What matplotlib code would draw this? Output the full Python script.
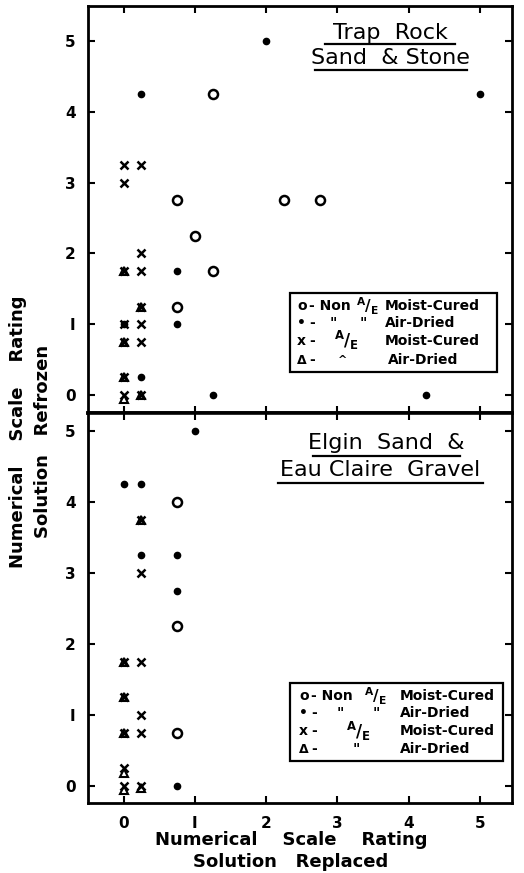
import matplotlib
matplotlib.use("Agg")
import matplotlib.pyplot as plt
from matplotlib.patches import Rectangle

plt.rcParams.update({"font.family": "DejaVu Sans", "font.weight": "bold",
                     "mathtext.default": "bf"})

# Trap Rock Sand & Stone (top panel)
trap_nonae_moist = [(1.25, 4.25), (0.75, 2.75), (1.0, 2.25), (1.25, 1.75),
                    (2.25, 2.75), (2.75, 2.75), (0.75, 1.25)]
trap_nonae_air = [(2.0, 5.0), (0.25, 4.25), (5.0, 4.25), (0.75, 1.75), (0.75, 1.0),
                  (0.0, 1.0), (0.25, 0.25), (1.25, 0.0), (4.25, 0.0)]
trap_ae_moist = [(0.0, 3.25), (0.25, 3.25), (0.0, 3.0), (0.25, 2.0), (0.0, 1.75),
                 (0.25, 1.75), (0.25, 1.25), (0.25, 1.0), (0.0, 1.0), (0.25, 0.75),
                 (0.0, 0.75), (0.0, 0.25), (0.0, 0.0), (0.25, 0.0)]
trap_ae_air = [(0.0, 1.75), (0.25, 1.25), (0.0, 0.75), (0.0, 0.25), (0.0, -0.05), (0.25, 0.0)]

# Elgin Sand & Eau Claire Gravel (bottom panel)
elgin_nonae_moist = [(0.75, 4.0), (0.75, 2.25), (0.75, 0.75)]
elgin_nonae_air = [(1.0, 5.0), (0.0, 4.25), (0.25, 4.25), (0.25, 3.25), (0.75, 3.25),
                   (0.75, 2.75), (0.75, 0.0)]
elgin_ae_moist = [(0.25, 3.75), (0.25, 3.0), (0.0, 1.75), (0.25, 1.75), (0.0, 1.25),
                  (0.25, 1.0), (0.0, 0.75), (0.25, 0.75), (0.0, 0.25), (0.0, 0.0), (0.25, 0.0)]
elgin_ae_air = [(0.25, 3.75), (0.0, 1.75), (0.0, 1.25), (0.0, 0.75), (0.0, 0.18),
                (0.0, -0.05), (0.25, -0.03)]

ticks = [0, 1, 2, 3, 4, 5]
tick_labels = ["0", "I", "2", "3", "4", "5"]

AE = r"$^{A}/_{E}$"

fig = plt.figure(figsize=(5.24, 8.73), dpi=100)
ax_top = fig.add_axes([0.168, 0.527, 0.809, 0.466])
ax_bot = fig.add_axes([0.168, 0.080, 0.809, 0.447], sharex=ax_top)


def scatter(ax, pts, **kw):
    xs = [p[0] for p in pts]
    ys = [p[1] for p in pts]
    ax.plot(xs, ys, ls="none", color="black", **kw)


def draw_points(ax, moist, air, ae_moist, ae_air):
    scatter(ax, ae_air, marker="^", ms=6, mfc="none", mew=1.5)
    scatter(ax, ae_moist, marker="x", ms=6, mew=1.8)
    scatter(ax, moist, marker="o", ms=6.5, mfc="none", mew=1.8)
    scatter(ax, air, marker="o", ms=4.5)


def underline_title(ax, lines):
    for txt, y, x0, x1, yl in lines:
        ax.text((x0 + x1) / 2, y, txt, transform=ax.transAxes, ha="center", va="center",
                fontsize=16, fontweight="normal")
        ax.plot([x0, x1], [yl, yl], transform=ax.transAxes, color="black", lw=1.6)


def legend_box(ax, box, rows):
    x0, y0, x1, y1 = box
    ax.add_patch(Rectangle((x0, y0), x1 - x0, y1 - y0, transform=ax.transAxes,
                           fill=False, lw=1.6, ec="black", zorder=5))
    for y, items in rows:
        for x, s, fs in items:
            ax.text(x, y, s, transform=ax.transAxes, ha="left", va="center",
                    fontsize=fs, zorder=6)


draw_points(ax_top, trap_nonae_moist, trap_nonae_air, trap_ae_moist, trap_ae_air)
draw_points(ax_bot, elgin_nonae_moist, elgin_nonae_air, elgin_ae_moist, elgin_ae_air)

ax_top.set_ylim(-0.25, 5.49)
ax_bot.set_ylim(-0.24, 5.25)
ax_top.set_xlim(-0.5, 5.45)

for ax in (ax_top, ax_bot):
    ax.set_yticks(ticks)
    ax.set_yticklabels(tick_labels, fontsize=11)
    ax.tick_params(direction="in", length=5, width=1.5, left=True, right=True,
                   top=True, bottom=True, pad=9)
    for s in ax.spines.values():
        s.set_linewidth(2)
ax_top.tick_params(labelbottom=False)
ax_top.spines["bottom"].set_linewidth(2.6)
ax_bot.spines["top"].set_linewidth(2.6)
ax_bot.set_xticks(ticks)
ax_bot.set_xticklabels(tick_labels, fontsize=11)

underline_title(ax_top, [
    ("Trap  Rock", 0.934, 0.559, 0.866, 0.906),
    ("Sand  & Stone", 0.872, 0.535, 0.894, 0.843),
])
underline_title(ax_bot, [
    ("Elgin  Sand  &", 0.923, 0.531, 0.877, 0.890),
    ("Eau Claire  Gravel", 0.854, 0.448, 0.932, 0.821),
])

fs = 10
legend_box(ax_top, (0.476, 0.101, 0.965, 0.295), [
    (0.263, [(0.493, "o", fs), (0.522, "- Non", fs), (0.632, AE, 11), (0.700, "Moist-Cured", fs)]),
    (0.221, [(0.493, "•", fs), (0.522, "-", fs), (0.571, '"', fs), (0.640, '"', fs), (0.700, "Air-Dried", fs)]),
    (0.177, [(0.493, "x", fs), (0.522, "-", fs), (0.580, AE, 12), (0.700, "Moist-Cured", fs)]),
    (0.130, [(0.493, "Δ", 9), (0.522, "-", fs), (0.590, "^", 8), (0.708, "Air-Dried", fs)]),
])
legend_box(ax_bot, (0.476, 0.108, 0.979, 0.308), [
    (0.274, [(0.498, "o", fs), (0.527, "- Non", fs), (0.650, AE, 11), (0.736, "Moist-Cured", fs)]),
    (0.231, [(0.498, "•", fs), (0.527, "-", fs), (0.587, '"', fs), (0.672, '"', fs), (0.736, "Air-Dried", fs)]),
    (0.185, [(0.498, "x", fs), (0.527, "-", fs), (0.608, AE, 12), (0.736, "Moist-Cured", fs)]),
    (0.138, [(0.498, "Δ", 9), (0.527, "-", fs), (0.623, '"', fs), (0.736, "Air-Dried", fs)]),
])

fig.text(0.034, 0.506, "Numerical    Scale    Rating", rotation=90, ha="center", va="center",
         fontsize=13)
fig.text(0.082, 0.494, "Solution   Refrozen", rotation=90, ha="center", va="center",
         fontsize=13)
fig.text(0.555, 0.038, "Numerical    Scale    Rating", ha="center", va="center", fontsize=13)
fig.text(0.555, 0.013, "Solution   Replaced", ha="center", va="center", fontsize=13)

fig.savefig("out.png", dpi=100)
